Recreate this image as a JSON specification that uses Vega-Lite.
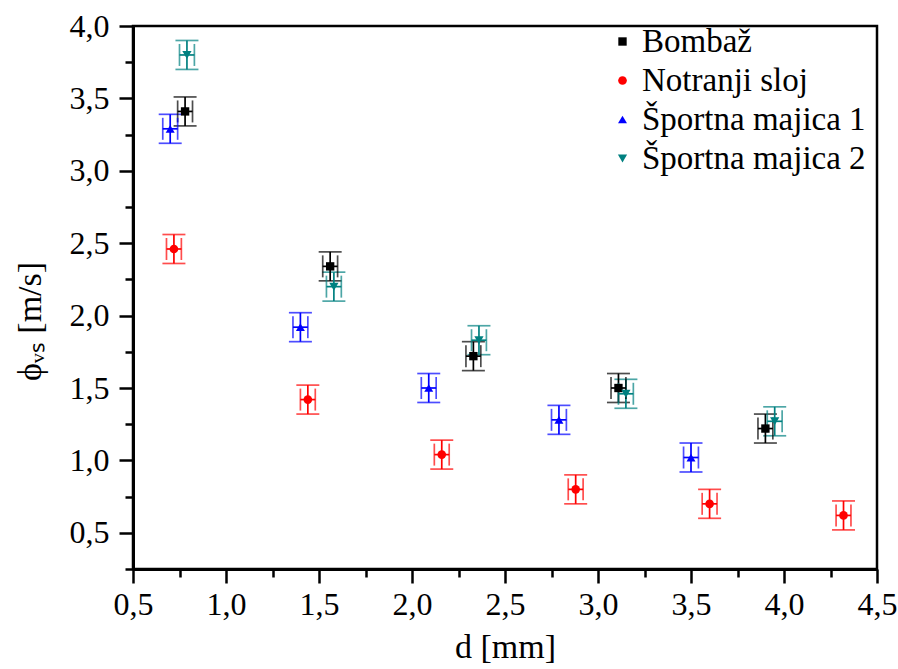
{
  "$schema": "https://vega.github.io/schema/vega-lite/v6.json",
  "autosize": {"type": "none"},
  "width": 744,
  "height": 543,
  "padding": {"left": 133, "top": 26, "right": 21, "bottom": 100},
  "background": "white",
  "config": {
    "view": {"stroke": "black", "strokeWidth": 2.5},
    "font": "Liberation Serif",
    "axis": {
      "domainColor": "black", "domainWidth": 3,
      "tickColor": "black", "tickWidth": 2.5,
      "labelFont": "Liberation Serif", "labelColor": "black",
      "titleFont": "Liberation Serif", "titleColor": "black", "titleFontWeight": "normal",
      "grid": false
    },
    "legend": {
      "labelFontSize": 33, "labelFont": "Liberation Serif", "labelColor": "black", "labelLimit": 500,
      "symbolSize": 60, "symbolStrokeWidth": 0, "symbolOpacity": 1, "labelOffset": 3, "rowPadding": 5
    }
  },
  "data": {"values": [
    {"s": "Bombaž", "d": 0.78, "phi": 3.41, "ex": 0.04, "ey": 0.1},
    {"s": "Bombaž", "d": 1.56, "phi": 2.34, "ex": 0.04, "ey": 0.1},
    {"s": "Bombaž", "d": 2.33, "phi": 1.72, "ex": 0.04, "ey": 0.1},
    {"s": "Bombaž", "d": 3.11, "phi": 1.50, "ex": 0.04, "ey": 0.1},
    {"s": "Bombaž", "d": 3.90, "phi": 1.22, "ex": 0.04, "ey": 0.1},
    {"s": "Notranji sloj", "d": 0.72, "phi": 2.46, "ex": 0.04, "ey": 0.1},
    {"s": "Notranji sloj", "d": 1.44, "phi": 1.42, "ex": 0.04, "ey": 0.1},
    {"s": "Notranji sloj", "d": 2.16, "phi": 1.04, "ex": 0.04, "ey": 0.1},
    {"s": "Notranji sloj", "d": 2.88, "phi": 0.80, "ex": 0.04, "ey": 0.1},
    {"s": "Notranji sloj", "d": 3.60, "phi": 0.70, "ex": 0.04, "ey": 0.1},
    {"s": "Notranji sloj", "d": 4.32, "phi": 0.62, "ex": 0.04, "ey": 0.1},
    {"s": "Športna majica 1", "d": 0.70, "phi": 3.29, "ex": 0.04, "ey": 0.1},
    {"s": "Športna majica 1", "d": 1.40, "phi": 1.92, "ex": 0.04, "ey": 0.1},
    {"s": "Športna majica 1", "d": 2.09, "phi": 1.50, "ex": 0.04, "ey": 0.1},
    {"s": "Športna majica 1", "d": 2.79, "phi": 1.28, "ex": 0.04, "ey": 0.1},
    {"s": "Športna majica 1", "d": 3.50, "phi": 1.02, "ex": 0.04, "ey": 0.1},
    {"s": "Športna majica 2", "d": 0.79, "phi": 3.80, "ex": 0.04, "ey": 0.1},
    {"s": "Športna majica 2", "d": 1.58, "phi": 2.20, "ex": 0.04, "ey": 0.1},
    {"s": "Športna majica 2", "d": 2.36, "phi": 1.83, "ex": 0.04, "ey": 0.1},
    {"s": "Športna majica 2", "d": 3.15, "phi": 1.46, "ex": 0.04, "ey": 0.1},
    {"s": "Športna majica 2", "d": 3.95, "phi": 1.27, "ex": 0.04, "ey": 0.1}
  ]},
  "encoding": {
    "x": {"field": "d", "type": "quantitative",
      "scale": {"domain": [0.5, 4.5], "nice": false, "zero": false},
      "axis": {
        "title": "d [mm]", "titleFontSize": 34, "titlePadding": 10,
        "values": [0.5,0.75,1,1.25,1.5,1.75,2,2.25,2.5,2.75,3,3.25,3.5,3.75,4,4.25,4.5],
        "labelExpr": "abs(datum.value*2 - round(datum.value*2)) < 0.01 ? replace(format(datum.value, '.1f'), '.', ',') : ''",
        "tickSize": {"condition": {"test": "abs(datum.value*2 - round(datum.value*2)) < 0.01", "value": 14}, "value": 8},
        "labelFontSize": 32, "labelPadding": 6, "labelFlush": false, "labelOverlap": false
      }},
    "y": {"field": "phi", "type": "quantitative",
      "scale": {"domain": [0.25, 4.0], "nice": false, "zero": false},
      "axis": {
        "title": "ϕᵥₛ [m/s]", "titleFontSize": 34,
        "values": [0.25,0.5,0.75,1,1.25,1.5,1.75,2,2.25,2.5,2.75,3,3.25,3.5,3.75,4],
        "labelExpr": "abs(datum.value*2 - round(datum.value*2)) < 0.01 ? replace(format(datum.value, '.1f'), '.', ',') : ''",
        "tickSize": {"condition": {"test": "abs(datum.value*2 - round(datum.value*2)) < 0.01", "value": 14}, "value": 8},
        "labelFontSize": 32, "labelPadding": 10, "labelFlush": false, "labelOverlap": false,
        "titleX": -86, "titleY": 295
      }},
    "color": {"field": "s", "type": "nominal",
      "scale": {"domain": ["Bombaž", "Notranji sloj", "Športna majica 1", "Športna majica 2"],
                "range": ["#000000", "#ff0000", "#0000ff", "#008080"]},
      "legend": {"title": null, "orient": "none", "legendX": 473, "legendY": -1}}
  },
  "layer": [
    {
      "mark": {"type": "errorbar", "ticks": {"size": 23, "thickness": 1.7}, "rule": {"strokeWidth": 1.7}},
      "encoding": {"yError": {"field": "ey"}}
    },
    {
      "mark": {"type": "errorbar", "ticks": {"size": 22, "thickness": 1.7}, "rule": {"strokeWidth": 1.7}},
      "encoding": {"xError": {"field": "ex"}}
    },
    {
      "mark": {"type": "point", "filled": true, "opacity": 1},
      "encoding": {
        "shape": {"field": "s", "type": "nominal",
          "scale": {"domain": ["Bombaž", "Notranji sloj", "Športna majica 1", "Športna majica 2"],
                    "range": ["square", "circle", "triangle-up", "triangle-down"]},
          "legend": {"title": null, "orient": "none", "legendX": 473, "legendY": -1}},
        "size": {"field": "s", "type": "nominal",
          "scale": {"domain": ["Bombaž", "Notranji sloj", "Športna majica 1", "Športna majica 2"],
                    "range": [70, 85, 130, 130]},
          "legend": null}
      }
    }
  ]
}
